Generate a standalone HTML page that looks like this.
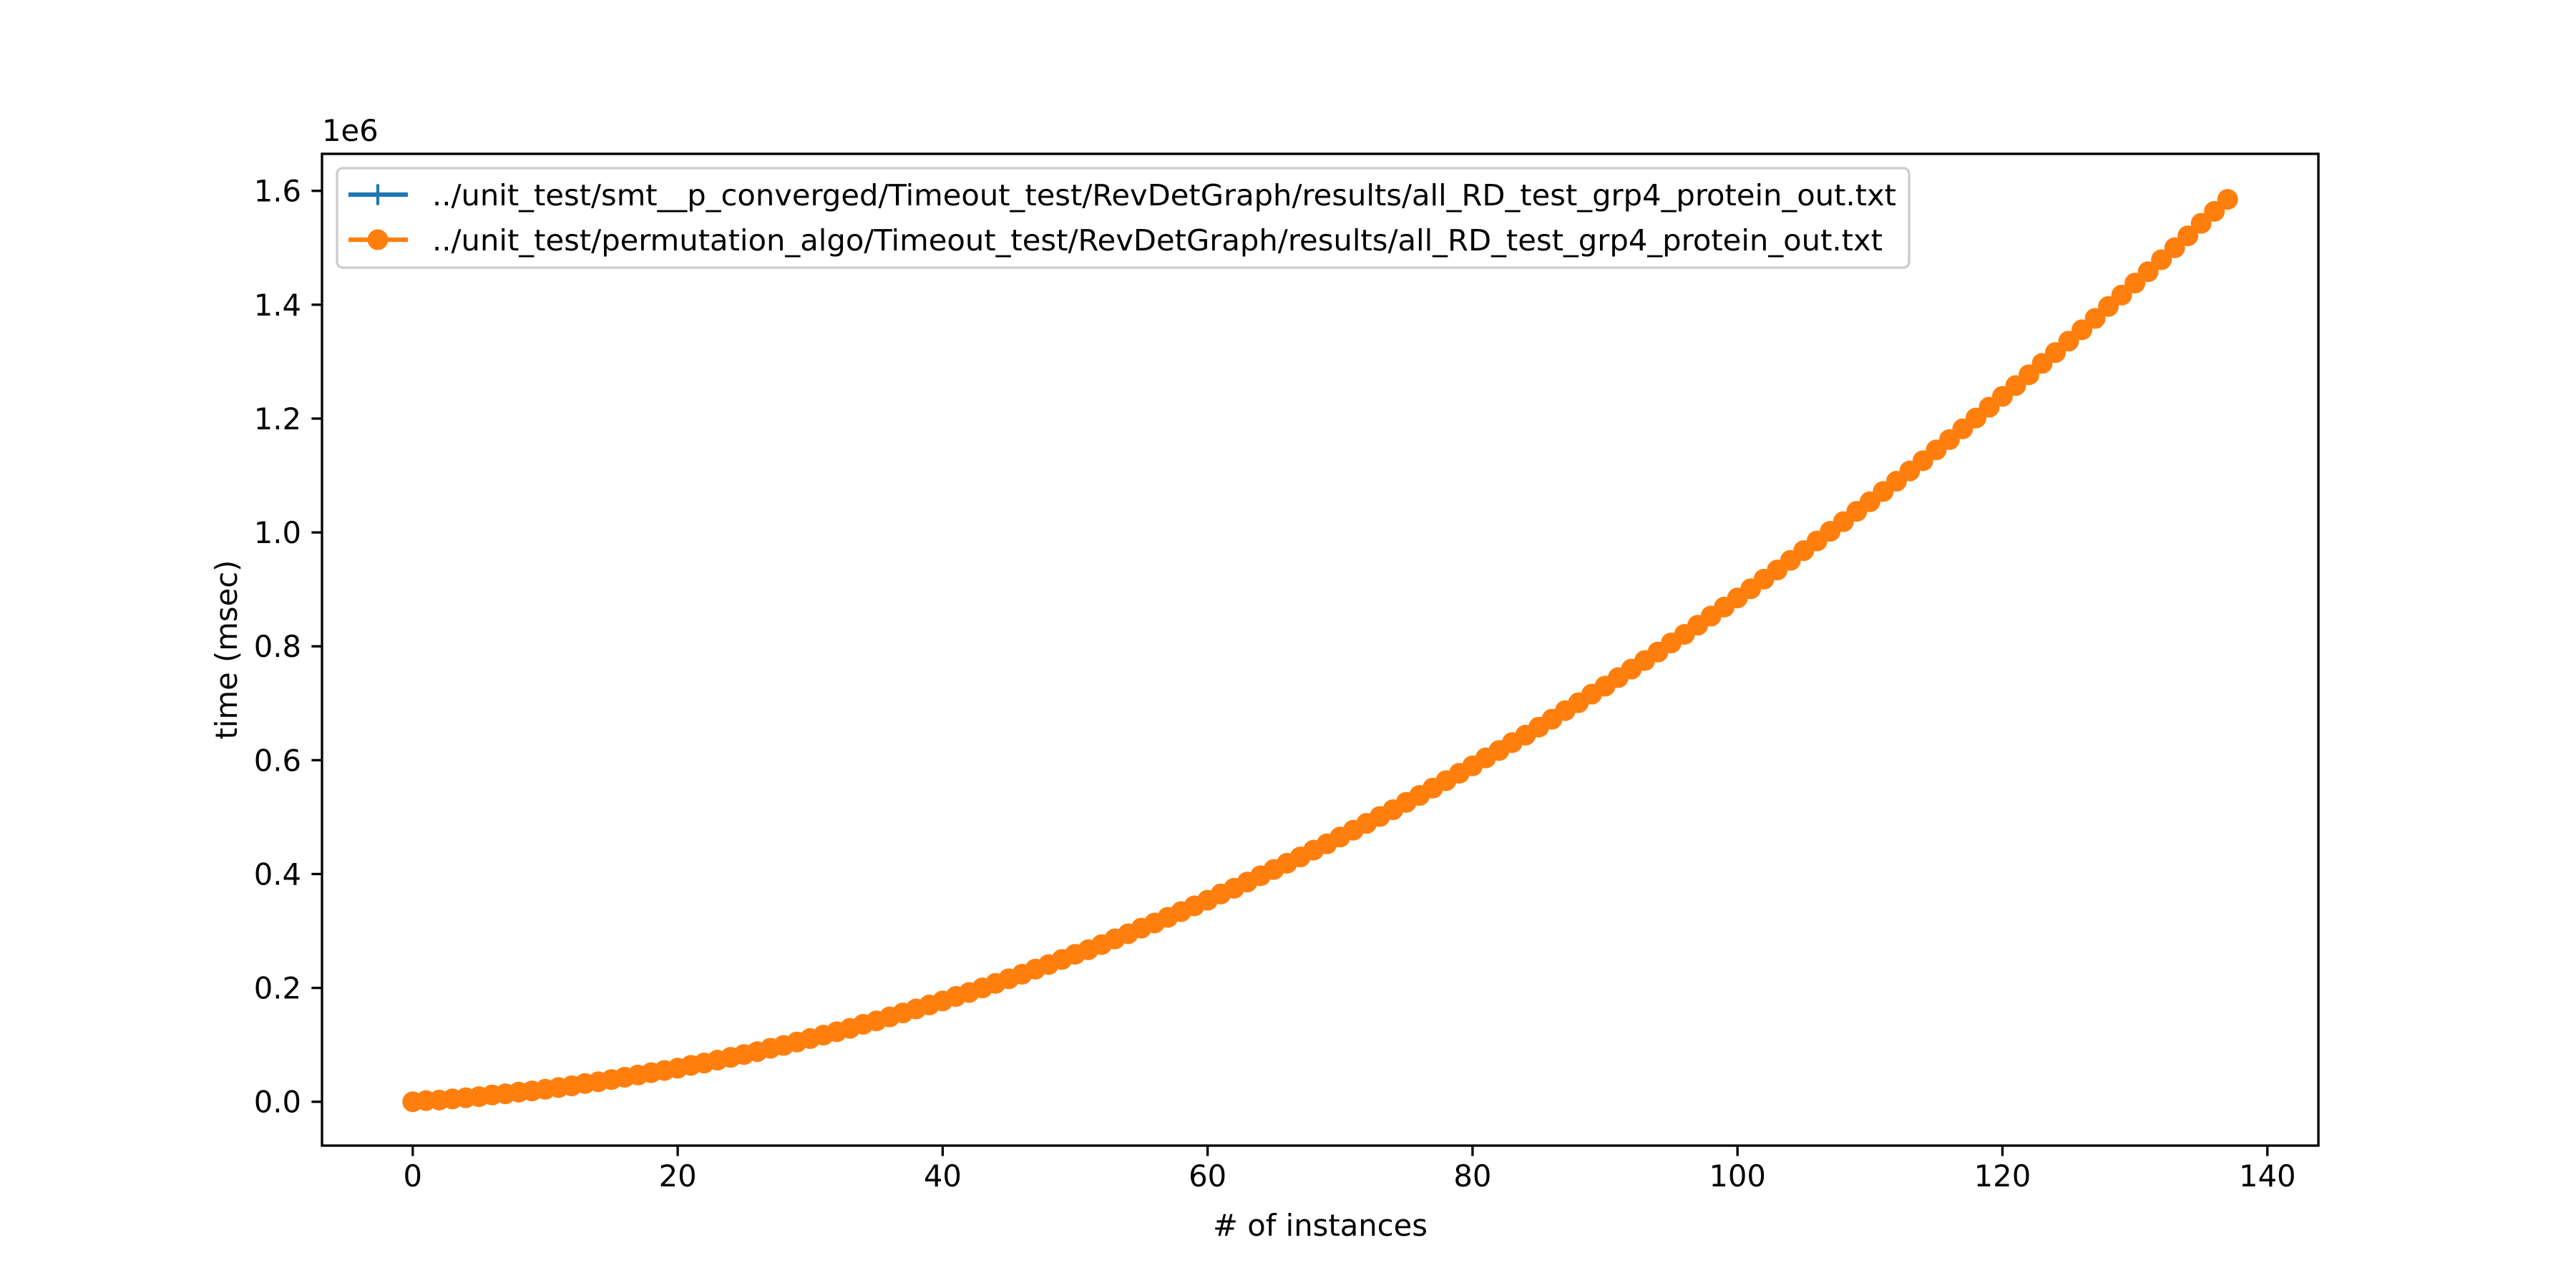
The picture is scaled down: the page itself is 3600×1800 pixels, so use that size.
<!DOCTYPE html>
<html><head><meta charset="utf-8"><title>time vs instances</title>
<style>html,body{margin:0;padding:0;background:#fff}svg{display:block}text{font-family:"DejaVu Sans","Liberation Sans",sans-serif;fill:#000}</style>
</head><body>
<svg id="chart" xmlns="http://www.w3.org/2000/svg" width="3600" height="1800" viewBox="0 0 3600 1800">
<rect x="0" y="0" width="3600" height="1800" fill="#fff"/>
<g id="plot"></g>
<g id="axes"></g>
</svg>
<script>
// values in thousands of msec, x = index 0..137
const smtValues = [0,2,3,5,7,9,12,14,17,19,22,25,28,32,35,39,43,47,51,55,59,64,68,73,78,83,88,94,99,105,111,117,123,129,136,142,149,156,163,170,177,185,192,200,208,216,224,233,241,250,259,267,276,286,295,305,314,324,334,344,354,365,375,386,397,408,419,430,442,453,465,477,489,501,513,526,538,551,564,577,590,604,617,631,644,658,672,687,701,716,730,745,760,775,790,806,821,837,853,869,885,901,918,934,951,968,985,1002,1019,1037,1054,1072,1090,1108,1126,1145,1163,1182,1201,1220,1239,1258,1277,1297,1316,1336,1356,1376,1397,1417,1438,1458,1479,1500,1521,1543,1564,1585];
const permValues = [0,2,3,5,7,9,12,14,17,19,22,25,28,32,35,39,43,47,51,55,59,64,68,73,78,83,88,94,99,105,111,117,123,129,136,142,149,156,163,170,177,185,192,200,208,216,224,233,241,250,259,267,276,286,295,305,314,324,334,344,354,365,375,386,397,408,419,430,442,453,465,477,489,501,513,526,538,551,564,577,590,604,617,631,644,658,672,687,701,716,730,745,760,775,790,806,821,837,853,869,885,901,918,934,951,968,985,1002,1019,1037,1054,1072,1090,1108,1126,1145,1163,1182,1201,1220,1239,1258,1277,1297,1316,1336,1356,1376,1397,1417,1438,1458,1479,1500,1521,1543,1564,1585];
const xTicks = [0,20,40,60,80,100,120,140];
const yTicks = [0,200,400,600,800,1000,1200,1400,1600];
const yTickLabels = ["0.0","0.2","0.4","0.6","0.8","1.0","1.2","1.4","1.6"];
const seriesNames = ["../unit_test/smt__p_converged/Timeout_test/RevDetGraph/results/all_RD_test_grp4_protein_out.txt","../unit_test/permutation_algo/Timeout_test/RevDetGraph/results/all_RD_test_grp4_protein_out.txt"];

const NS="http://www.w3.org/2000/svg";
const L=450,R=3240,T=215,B=1601;
const X0=-6.85,X1=143.85,Y0=-77,Y1=1665;
const MR=14.5;
function sx(v){return L+(v-X0)/(X1-X0)*(R-L);}
function sy(v){return B-(v-Y0)/(Y1-Y0)*(B-T);}
function mk(tag,attrs,parent,txt){const e=document.createElementNS(NS,tag);for(const k in attrs)e.setAttribute(k,attrs[k]);if(txt!==undefined)e.textContent=txt;parent.appendChild(e);return e;}
const plot=document.getElementById('plot'),axes=document.getElementById('axes');
const cp=mk('clipPath',{id:'clip'},plot);mk('rect',{x:L,y:T,width:R-L,height:B-T},cp);
const pg=mk('g',{'clip-path':'url(#clip)'},plot);

let d=smtValues.map((v,i)=>(i?'L':'M')+sx(i).toFixed(1)+' '+sy(v).toFixed(1)).join(' ');
const l1=mk('path',{d:d,fill:'none',stroke:'#1f77b4','stroke-width':6.25,'stroke-linejoin':'round','stroke-linecap':'square'},pg);


smtValues.forEach((v,i)=>{const x=sx(i),y=sy(v);
 const p=mk('path',{d:`M${x-12.5} ${y}H${x+12.5}M${x} ${y-12.5}V${y+12.5}`,stroke:'#1f77b4','stroke-width':4.2},pg);
 
 });
d=permValues.map((v,i)=>(i?'L':'M')+sx(i).toFixed(1)+' '+sy(v).toFixed(1)).join(' ');
const l2=mk('path',{d:d,fill:'none',stroke:'#ff7f0e','stroke-width':6.25,'stroke-linejoin':'round'},pg);


permValues.forEach((v,i)=>{
 const c=mk('circle',{cx:sx(i),cy:sy(v),r:MR,fill:'#ff7f0e'},pg);
 
 });

const fr=mk('rect',{x:L,y:T,width:R-L,height:B-T,fill:'none',stroke:'#000','stroke-width':3.33},axes);


xTicks.forEach(t=>{const x=sx(t);
 mk('line',{x1:x,x2:x,y1:B,y2:B+14.6,stroke:'#000','stroke-width':3.33},axes);
 const tx=mk('text',{x:x,y:B+57,'font-size':41.7,'text-anchor':'middle'},axes,String(t));
 
 });
yTicks.forEach((t,i)=>{const y=sy(t);
 mk('line',{x1:L-14.6,x2:L,y1:y,y2:y,stroke:'#000','stroke-width':3.33},axes);
 const tx=mk('text',{x:L-29,y:y+15,'font-size':41.7,'text-anchor':'end'},axes,yTickLabels[i]);
 
 });
const off=mk('text',{x:L,y:T-18,'font-size':41.7},axes,'1e6');


const xt=mk('text',{x:(L+R)/2,y:1727,'font-size':41.7,'text-anchor':'middle'},axes,'# of instances');


const yt=mk('text',{x:0,y:0,'font-size':41.7,'text-anchor':'middle',transform:`translate(331 ${(T+B)/2}) rotate(-90)`},axes,'time (msec)');



const lg=mk('g',{},axes);


mk('rect',{x:471,y:235,width:2197,height:139,rx:8,fill:'#fff','fill-opacity':0.8,stroke:'#cccccc','stroke-width':3.33},lg);
const ly=[272,335];
seriesNames.forEach((n,i)=>{
 const col=i?'#ff7f0e':'#1f77b4';const y=ly[i];
 mk('line',{x1:487,x2:570,y1:y,y2:y,stroke:col,'stroke-width':6.25},lg);
 if(i) mk('circle',{cx:528,cy:y,r:MR,fill:col},lg);
 else mk('path',{d:`M528 ${y-14.5}V${y+14.5}`,stroke:col,'stroke-width':4.2},lg);
 const t=mk('text',{x:604,y:y+15,'font-size':41.3,textLength:i?2027:2046,lengthAdjust:'spacingAndGlyphs'},lg,n);
 
 });
</script>
</body></html>
